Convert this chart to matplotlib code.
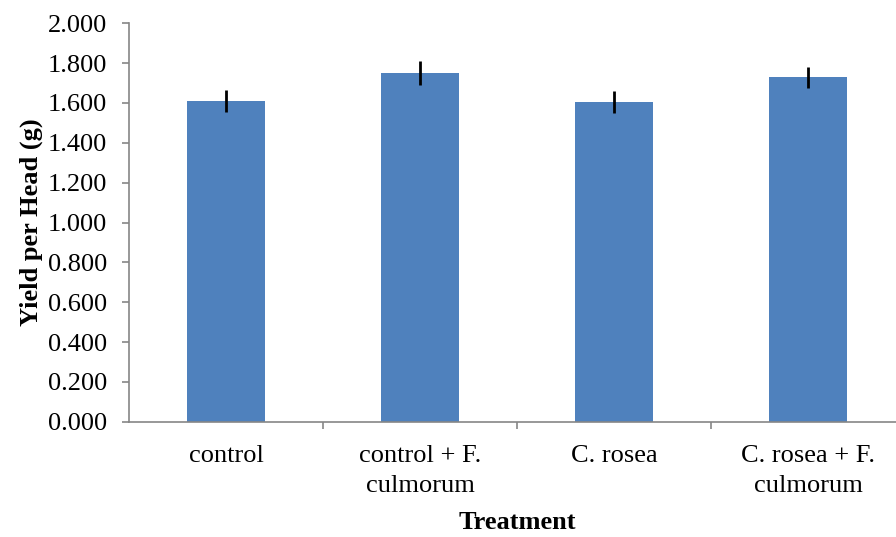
import numpy as np
import matplotlib
matplotlib.use('Agg')
import matplotlib.pyplot as plt

treatments = ['control', 'control + F.\nculmorum', 'C. rosea', 'C. rosea + F.\nculmorum']
yield_per_head = [1.611, 1.751, 1.604, 1.728]
yield_err = [0.056, 0.060, 0.054, 0.053]

plt.rcParams['font.family'] = ['Liberation Serif', 'DejaVu Serif']

fig = plt.figure(figsize=(8.96, 5.37), dpi=100)
ax = fig.add_axes([129 / 896, 115.3 / 537, 776 / 896, 398.4 / 537])

x = np.arange(len(treatments))
ax.bar(x, yield_per_head, width=0.4, color='#4F81BD', zorder=2)
ax.errorbar(x, yield_per_head, yerr=yield_err, fmt='none', ecolor='black',
            elinewidth=2, capsize=0, zorder=3)

ax.set_xlim(-0.5, 3.5)
ax.set_ylim(0, 2.0)
ax.set_yticks(np.arange(0, 2.01, 0.2))
ax.set_yticklabels([f'{v:.3f}' for v in np.arange(0, 2.01, 0.2)])
ax.set_xticks(x)
ax.set_xticklabels(treatments, linespacing=1.45)
ax.set_xticks([0.5, 1.5, 2.5], minor=True)

for side in ['top', 'right']:
    ax.spines[side].set_visible(False)
for side in ['left', 'bottom']:
    ax.spines[side].set_color('#868686')
    ax.spines[side].set_linewidth(1.2)

ax.tick_params(axis='y', length=5, width=1.2, color='#868686', pad=11, labelsize=19)
ax.tick_params(axis='x', which='major', length=0, pad=17, labelsize=19)
ax.tick_params(axis='x', which='minor', length=5, width=1.2, color='#868686')

ax.set_xlabel('Treatment', fontsize=19, fontweight='bold', labelpad=10)
ax.set_ylabel('Yield per Head (g)', fontsize=19, fontweight='bold', labelpad=3)

fig.savefig('out.png', dpi=100)
